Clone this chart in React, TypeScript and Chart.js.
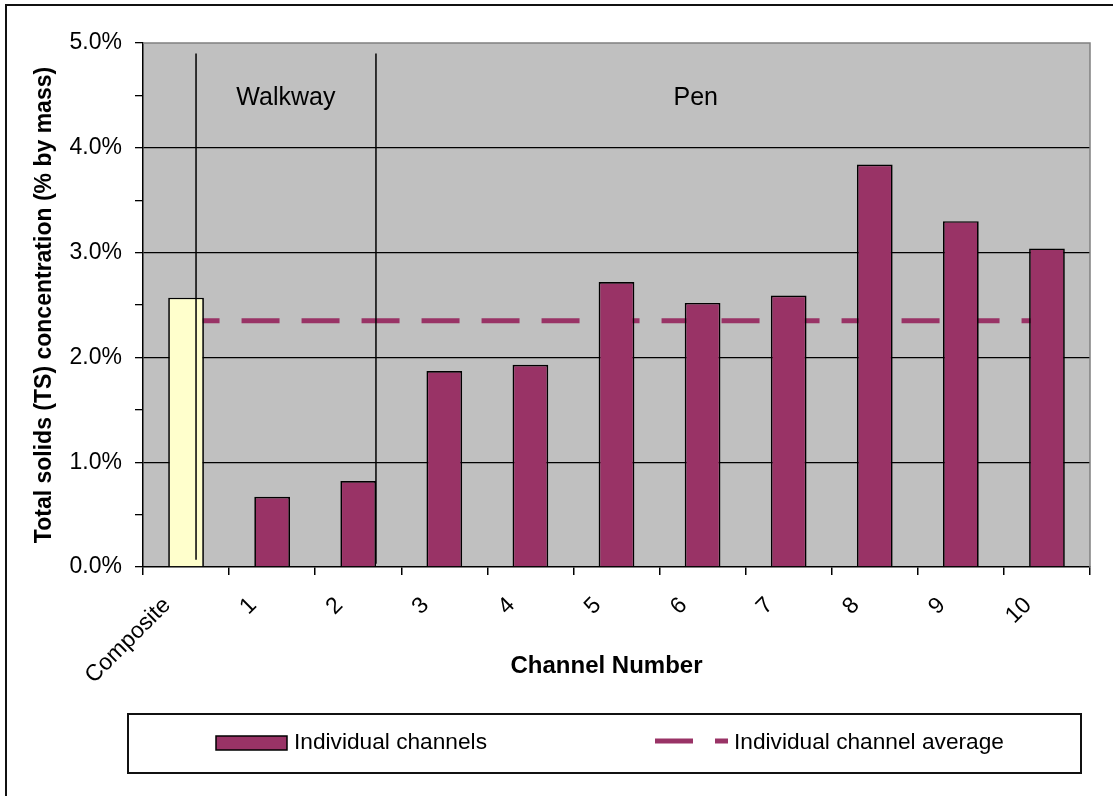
import React, { useEffect, useRef } from 'react';
import { Chart, registerables } from 'chart.js';

Chart.register(...registerables);

// ---- Data ----
const categories = ['Composite', '1', '2', '3', '4', '5', '6', '7', '8', '9', '10'];
const tsConcentration = [2.57, 0.67, 0.82, 1.87, 1.93, 2.72, 2.52, 2.59, 3.84, 3.30, 3.04];
const channelAverage = [2.35, 2.35, 2.35, 2.35, 2.35, 2.35, 2.35, 2.35, 2.35, 2.35, 2.35];
const yTickValues = [0, 1, 2, 3, 4, 5];
// region annotations (category-index units / % units)
const regionNames = ['Walkway', 'Pen'];
const regionNameX = [1.16, 5.92];
const regionNameY = [4.47, 4.47];
const dividerX = [0.116, 2.206];
const dividerTop = [4.9, 4.9];
const dividerBottom = [0.07, 0.03];

const PURPLE = '#993366';
const YELLOW = '#FFFFCC';
const PLOT_BG = '#C0C0C0';
const FONT = "'Liberation Sans', Arial, Helvetica, sans-serif";

const decorPlugin = {
  id: 'decor',
  beforeDraw(chart: any) {
    const { ctx, chartArea: a } = chart;
    ctx.save();
    ctx.fillStyle = '#ffffff';
    ctx.fillRect(0, 0, chart.width, chart.height);
    ctx.strokeStyle = '#111111';
    ctx.lineWidth = 2;
    ctx.strokeRect(6, 5, chart.width + 20, chart.height + 20);
    ctx.fillStyle = PLOT_BG;
    ctx.fillRect(a.left, a.top, a.right - a.left, a.bottom - a.top);
    ctx.restore();
  },
  afterDatasetsDraw(chart: any) {
    const { ctx, chartArea: a, scales } = chart;
    const xs = scales.x;
    const ys = scales.y;
    ctx.save();
    // top and right plot border
    ctx.strokeStyle = '#808080';
    ctx.lineWidth = 1.5;
    ctx.beginPath();
    ctx.moveTo(a.left, a.top);
    ctx.lineTo(a.right, a.top);
    ctx.lineTo(a.right, a.bottom);
    ctx.stroke();
    // dividers
    ctx.strokeStyle = '#000000';
    ctx.lineWidth = 1.5;
    dividerX.forEach((dx, i) => {
      const px = xs.getPixelForValue(dx);
      ctx.beginPath();
      ctx.moveTo(px, ys.getPixelForValue(dividerTop[i]));
      ctx.lineTo(px, ys.getPixelForValue(dividerBottom[i]));
      ctx.stroke();
    });
    // region labels
    ctx.fillStyle = '#000000';
    ctx.font = `25px ${FONT}`;
    ctx.textAlign = 'center';
    ctx.textBaseline = 'middle';
    regionNames.forEach((name, i) => {
      ctx.fillText(name, xs.getPixelForValue(regionNameX[i]), ys.getPixelForValue(regionNameY[i]));
    });
    ctx.restore();
  },
  afterDraw(chart: any) {
    const { ctx } = chart;
    const ds0 = chart.data.datasets[0];
    const ds1 = chart.data.datasets[1];
    ctx.save();
    // legend box
    ctx.fillStyle = '#ffffff';
    ctx.fillRect(128, 714, 953, 59);
    ctx.strokeStyle = '#111111';
    ctx.lineWidth = 2;
    ctx.strokeRect(128, 714, 953, 59);
    // item 1 swatch
    ctx.fillStyle = PURPLE;
    ctx.fillRect(216, 736, 71, 14);
    ctx.strokeStyle = '#000000';
    ctx.lineWidth = 1.5;
    ctx.strokeRect(216, 736, 71, 14);
    ctx.fillStyle = '#000000';
    ctx.font = `22.7px ${FONT}`;
    ctx.textAlign = 'left';
    ctx.textBaseline = 'middle';
    ctx.fillText(ds0.label, 294, 743);
    // item 2 dashed line
    ctx.strokeStyle = PURPLE;
    ctx.lineWidth = 5;
    ctx.setLineDash([38, 22]);
    ctx.beginPath();
    ctx.moveTo(655, 741);
    ctx.lineTo(728, 741);
    ctx.stroke();
    ctx.setLineDash([]);
    ctx.fillStyle = '#000000';
    ctx.fillText(ds1.label, 734, 743);
    ctx.restore();
  },
};

export default function App() {
  const canvasRef = useRef<HTMLCanvasElement | null>(null);

  useEffect(() => {
    if (!canvasRef.current) return;
    Chart.defaults.font.family = FONT;
    Chart.defaults.color = '#000000';
    const chart = new Chart(canvasRef.current, {
      type: 'bar',
      data: {
        labels: categories,
        datasets: [
          {
            type: 'bar',
            label: 'Individual channels',
            data: tsConcentration,
            backgroundColor: categories.map((_, i) => (i === 0 ? YELLOW : PURPLE)),
            borderColor: '#000000',
            borderWidth: 1.7,
            categoryPercentage: 1,
            barPercentage: 0.415,
            order: 1,
          },
          {
            type: 'line',
            label: 'Individual channel average',
            data: channelAverage,
            borderColor: PURPLE,
            borderWidth: 5,
            borderDash: [38, 22],
            borderDashOffset: 4.5,
            pointRadius: 0,
            fill: false,
            order: 2,
          } as any,
        ],
      },
      options: {
        responsive: false,
        animation: false,
        devicePixelRatio: 1,
        layout: { padding: { left: 0, top: 43, right: 23, bottom: 0 } },
        plugins: {
          legend: { display: false },
          tooltip: { enabled: false },
        },
        scales: {
          x: {
            type: 'category',
            offset: true,
            grid: {
              display: true,
              offset: true,
              drawOnChartArea: false,
              drawTicks: true,
              tickLength: 8,
              color: '#000000',
              lineWidth: 1.5,
            },
            border: { display: true, color: '#000000', width: 1.5 },
            ticks: {
              autoSkip: false,
              minRotation: 45,
              maxRotation: 45,
              padding: 17,
              labelOffset: -19,
              font: { size: 23 },
              color: '#000000',
            },
            title: {
              display: true,
              text: 'Channel Number   ',
              font: { size: 24, weight: 'bold' },
              color: '#000000',
              padding: { top: 0, bottom: 115 },
            },
            afterFit(scale: any) {
              scale.height = 229;
            },
          },
          y: {
            min: 0,
            max: 5,
            afterBuildTicks(scale: any) {
              const t: any[] = [];
              yTickValues.forEach((v, i) => {
                t.push({ value: v });
                if (i < yTickValues.length - 1) t.push({ value: v + 0.5 });
              });
              scale.ticks = t;
            },
            grid: {
              display: true,
              drawOnChartArea: true,
              drawTicks: true,
              tickLength: 8,
              color: (ctx: any) =>
                ctx.tick && Number.isInteger(ctx.tick.value) && ctx.tick.value > 0 && ctx.tick.value < 5
                  ? '#000000'
                  : 'rgba(0,0,0,0)',
              tickColor: '#000000',
              lineWidth: 1.3,
            },
            border: { display: true, color: '#000000', width: 1.5 },
            ticks: {
              padding: 13,
              font: { size: 23 },
              color: '#000000',
              callback: (v: any) => (Number.isInteger(v) ? Number(v).toFixed(1) + '%' : ''),
            },
            title: {
              display: true,
              text: 'Total solids (TS) concentration (% by mass)',
              font: { size: 23, weight: 'bold' },
              color: '#000000',
              padding: { top: 31, bottom: 0 },
            },
            afterFit(scale: any) {
              scale.width = 143;
            },
          },
        },
      },
      plugins: [decorPlugin],
    });
    return () => chart.destroy();
  }, []);

  return (
    <div style={{ position: 'absolute', left: 0, top: 0, width: 1113, height: 796, background: '#fff' }}>
      <canvas ref={canvasRef} width={1113} height={796} style={{ display: 'block' }} />
    </div>
  );
}
